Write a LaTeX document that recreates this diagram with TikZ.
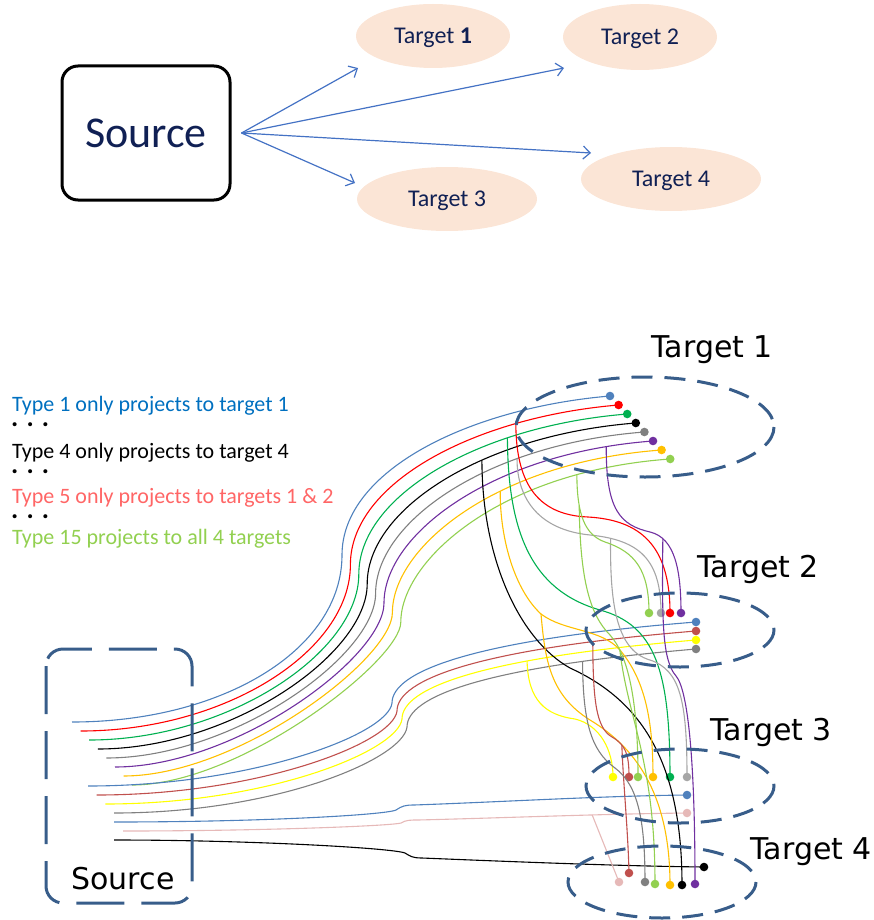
\documentclass[tikz,border=0pt]{standalone}
\usepackage{fontspec}
\setmainfont{Carlito}
\newfontfamily\vfont{DejaVu Sans}
\usetikzlibrary{arrows.meta,shapes.geometric}

\definecolor{navy}{RGB}{16,32,84}
\definecolor{peach}{RGB}{251,229,214}
\definecolor{arrowblue}{RGB}{68,114,196}
\definecolor{outline}{RGB}{56,93,138}
\definecolor{fbBlue}{RGB}{79,129,189}
\definecolor{fbRed}{RGB}{255,0,0}
\definecolor{fbGreen}{RGB}{0,176,80}
\definecolor{fbGray}{RGB}{128,128,128}
\definecolor{fbPurple}{RGB}{112,48,160}
\definecolor{fbOrange}{RGB}{255,192,0}
\definecolor{fbLime}{RGB}{146,208,80}
\definecolor{fbSilver}{RGB}{166,166,166}
\definecolor{fbBrick}{RGB}{192,80,77}
\definecolor{fbYellow}{RGB}{255,255,0}
\definecolor{fbPink}{RGB}{230,185,184}
\definecolor{legBlue}{RGB}{0,112,192}
\definecolor{legRed}{RGB}{255,102,102}

\tikzset{
  fib/.style={line width=1.1pt},
  fdot/.style={circle,fill,inner sep=0pt,minimum size=8.6pt},
  tgt/.style={ellipse,fill=peach,inner sep=0pt,text=navy,text depth=0pt,font=\fontsize{24}{28}\selectfont},
  region/.style={outline,line width=3pt,dash pattern=on 21pt off 12pt},
  bigtext/.style={font=\vfont\fontsize{30}{34}\selectfont,anchor=base west},
  legend/.style={font=\fontsize{22}{26}\selectfont,anchor=base west,inner sep=0pt},
  legdots/.style={font=\bfseries\fontsize{27}{30}\selectfont,anchor=base west,inner sep=0pt}
}

\begin{document}
\begin{tikzpicture}[x=1pt,y=-1pt,>={Straight Barb[length=7pt,width=13pt]}]
	\useasboundingbox (0,0) rectangle (874,920);

	\node[draw,line width=3pt,rounded corners=16pt,minimum width=168pt,minimum height=134pt,text=navy,font=\fontsize{44}{50}\selectfont] (src) at (146,133) {Source};
	\node[tgt,minimum width=154pt,minimum height=64pt] (t1) at (433,36) {Target \textbf{1}};
	\node[tgt,minimum width=154pt,minimum height=66pt] (t2) at (640,37) {Target 2};
	\node[tgt,minimum width=180pt,minimum height=64pt] (t3) at (447,199) {Target 3};
	\node[tgt,minimum width=180pt,minimum height=64pt] (t4) at (671,179) {Target 4};
	\coordinate (a1) at (358,68);
	\coordinate (a2) at (564,68);
	\coordinate (a3) at (591,153);
	\coordinate (a4) at (355,183);
	\foreach \t in {a1,a2,a3,a4}
		\draw[->,arrowblue,line width=1.2pt] ([xshift=10pt]src.east) -- (\t);

	\node[legend,text=legBlue] (ty1) at (12,411) {Type 1 only projects to target 1};
	\node[legdots] (dt1) at (11,426) {. . .};
	\node[legend] (ty4) at (12,458) {Type 4 only projects to target 4};
	\node[legdots] (dt2) at (11,473) {. . .};
	\node[legend,text=legRed] (ty5) at (12,503) {Type 5 only projects to targets 1 \& 2};
	\node[legdots] (dt3) at (11,518) {. . .};
	\node[legend,text=fbLime] (ty15) at (12,544) {Type 15 projects to all 4 targets};

	\node[bigtext] (lt1) at (648,357) {Target 1};
	\node[bigtext] (lt2) at (694,577) {Target 2};
	\node[bigtext] (lt3) at (707,740) {Target 3};
	\node[bigtext] (lt4) at (747,859) {Target 4};
	\node[bigtext] (ls) at (68,889) {Source};

	\foreach \c/\p [count=\i from 0] in {fbBlue/.5,fbRed/.75,fbGreen/.71,black/.62,fbGray/.7,fbPurple/.9,fbOrange/.615,fbLime/.8}
		\draw[fib,\c] ({72+8.6*\i},{722+9*\i}) .. controls ({222+2.6*\i},{722+9*\i}) and ({342+8.4*\i},{650+1.5*\i}) .. ({342+8.4*\i},{555+9.6*\i})
			.. controls ({342+8.4*\i},{470+12.9*\i}) and ({470+4.3*\i},{408+9*\i}) .. ({610+8.6*\i},{396+9*\i}) coordinate[pos=\p] (b\i) node[fdot]{};
	\foreach \c/\p [count=\i from 0] in {fbBlue/.5,fbBrick/.825,fbYellow/.675,fbGray/.795}
		\draw[fib,\c] ({88+8.7*\i},{786+9*\i}) .. controls ({250+8.7*\i},{786+9*\i}) and ({388+5*\i},{735+8*\i}) .. ({392+5*\i},{703+8*\i})
			.. controls ({392+5*\i},{672+8*\i}) and ({470+5*\i},{640+9*\i}) .. (696,{622+9*\i}) coordinate[pos=\p] (c\i) node[fdot]{};
	\draw[fib,fbBlue] (114,822) .. controls (260,822) and (385,815) .. (396,810) .. controls (402,806) and (405,805) .. (414,805) .. controls (500,802) and (600,796) .. (687,795) node[fdot]{};
	\draw[fib,fbPink] (123,831) .. controls (260,831) and (390,826) .. (401,823) .. controls (406,820) and (410,820) .. (418,820) .. controls (500,818) and (600,814) .. (687,813) coordinate[pos=.65] (k1) node[fdot]{};
	\draw[fib,black] (114,840) .. controls (250,840) and (392,848) .. (405,853) .. controls (410,856) and (412,858) .. (422,858) .. controls (520,862) and (620,866) .. (704,867) node[fdot]{};

	\draw[fib,fbRed] (b1) .. controls (516,480) and (535,515) .. (588,517) .. controls (640,520) and (670,545) .. (670,613) node[fdot]{};
	\draw[fib,fbGreen] (b2) .. controls (508,530) and (530,590) .. (600,610) .. controls (655,625) and (670,670) .. (670,777) node[fdot]{};
	\draw[fib,black] (b3) .. controls (482,560) and (520,640) .. (570,668) .. controls (640,700) and (682,760) .. (682,885) node[fdot]{};
	\draw[fib,fbSilver] (b4) .. controls (517,500) and (540,530) .. (590,535) .. controls (640,540) and (661,560) .. (661,613) coordinate[pos=.15] (g1) node[fdot]{};
	\draw[fib,fbSilver] (g1) .. controls (610,600) and (615,650) .. (650,660) .. controls (680,670) and (687,700) .. (687,777) node[fdot]{};
	\draw[fib,fbPurple] (b5) .. controls (606,510) and (620,525) .. (650,532) .. controls (675,538) and (681,570) .. (681,613) coordinate[pos=.2] (p1) node[fdot]{};
	\draw[fib,fbPurple] (p1) .. controls (662,620) and (662,660) .. (676,676) .. controls (688,690) and (695,760) .. (695,884) node[fdot]{};
	\draw[fib,fbOrange] (b6) .. controls (500,540) and (515,590) .. (541,614) coordinate (o1);
	\draw[fib,fbOrange] (o1) .. controls (565,632) and (600,628) .. (620,650) .. controls (645,680) and (653,720) .. (653,777) node[fdot]{};
	\draw[fib,fbOrange] (o1) .. controls (545,660) and (550,695) .. (590,720) .. controls (640,750) and (670,800) .. (670,885) node[fdot]{};
	\draw[fib,fbLime] (b7) .. controls (577,515) and (585,535) .. (605,542) coordinate[pos=.3] (l1) .. controls (635,552) and (649,570) .. (649,613) node[fdot]{};
	\draw[fib,fbLime] (l1) .. controls (580,580) and (590,615) .. (610,635) .. controls (628,655) and (638,700) .. (638,777) coordinate[pos=.2] (l2) node[fdot]{};
	\draw[fib,fbLime] (l2) .. controls (628,720) and (655,760) .. (655,884) node[fdot]{};
	\draw[fib,fbYellow] (c2) .. controls (528,700) and (545,715) .. (575,719) .. controls (600,725) and (613,750) .. (613,777) node[fdot]{};
	\draw[fib,fbBrick] (c1) .. controls (593,700) and (596,728) .. (612,737) .. controls (626,745) and (629,755) .. (629,777) coordinate[pos=.3] (r1) node[fdot]{};
	\draw[fib,fbBrick] (r1) .. controls (623,780) and (628,830) .. (629,873) node[fdot]{};
	\draw[fib,fbGray] (c3) .. controls (583,720) and (590,750) .. (615,768) .. controls (638,785) and (645,820) .. (645,882) node[fdot]{};
	\draw[fib,fbPink] (k1) -- (619,882) node[fdot]{};

	\draw[region,dash pattern=on 48pt off 17pt,rounded corners=17pt] (46,649) rectangle (192,903);
	\draw[region] (645,427) ellipse [x radius=129,y radius=50];
	\draw[region] (680,630) ellipse [x radius=94,y radius=37];
	\draw[region] (680,786) ellipse [x radius=94,y radius=37];
	\draw[region] (662,882) ellipse [x radius=94,y radius=36];
\end{tikzpicture}
\end{document}
